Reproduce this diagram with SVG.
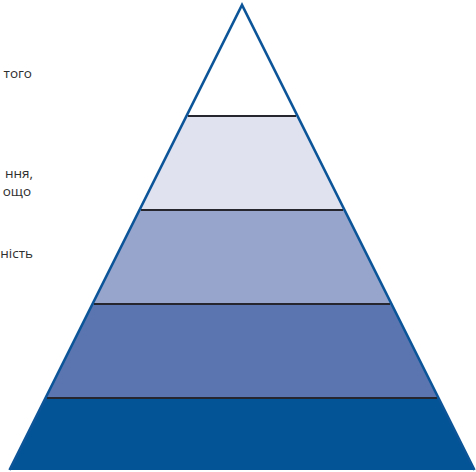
<svg xmlns="http://www.w3.org/2000/svg" width="476" height="472" viewBox="0 0 476 472">
<style>
.lbl{font-family:"Open Sans","Liberation Sans",sans-serif;font-size:13.5px;fill:#2e2e2e;text-anchor:end}
.div{stroke:#26262e;stroke-width:2}
.edge{fill:none;stroke:#0b5598;stroke-width:2.6;stroke-linejoin:miter}
</style>
<rect width="476" height="472" fill="#fff"/>
<g id="level1"><polygon points="242,5 186.5,116 297.5,116" fill="#ffffff"/></g>
<g id="level2"><polygon points="186.5,116 297.5,116 344.5,210 139.5,210" fill="#e0e2f0"/></g>
<g id="level3"><polygon points="139.5,210 344.5,210 391.5,304 92.5,304" fill="#97a4cc"/></g>
<g id="level4"><polygon points="92.5,304 391.5,304 438.5,398 45.5,398" fill="#5a75b0"/></g>
<g id="level5"><polygon points="45.5,398 438.5,398 474.5,470 9.5,470" fill="#035397"/></g>
<g id="connectors">
<line class="div" x1="188" y1="116" x2="296" y2="116"/>
<line class="div" x1="141" y1="210" x2="343" y2="210"/>
<line class="div" x1="94" y1="304" x2="390" y2="304"/>
<line class="div" x1="47" y1="398" x2="437" y2="398"/>
<polyline class="edge" points="9.5,470 242,5 474.5,470"/>
</g>
<g id="labels">
<text class="lbl" x="32" y="78">того</text>
<text class="lbl" x="33" y="178">ння,</text>
<text class="lbl" x="31" y="196">ощо</text>
<text class="lbl" x="33" y="258">ність</text>
</g>
</svg>
